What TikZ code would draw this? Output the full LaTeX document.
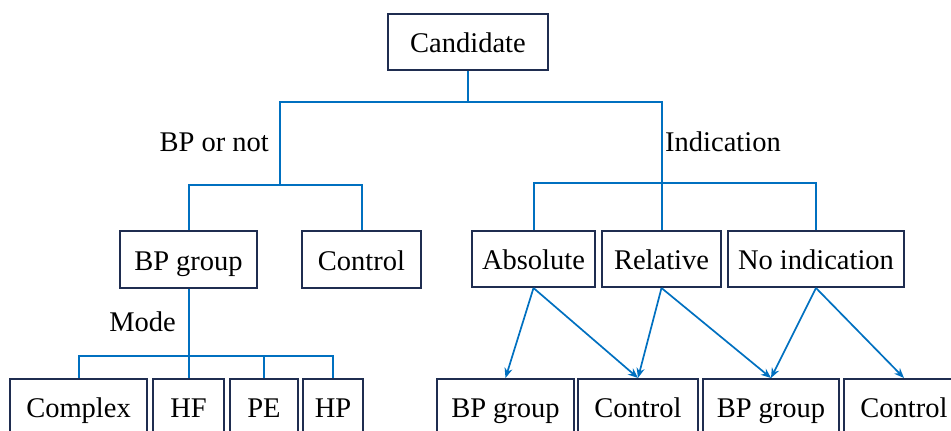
\documentclass[tikz,border=0pt]{standalone}
\usepackage{fontspec}
\setmainfont{Liberation Serif}
\usetikzlibrary{arrows.meta}
\definecolor{lineblue}{HTML}{0070C0}
\definecolor{boxnavy}{HTML}{1F2D50}
\begin{document}
\begin{tikzpicture}[x=1pt,y=-1pt,
  box/.style={draw=boxnavy,line width=2pt,inner sep=0pt,minimum height=56pt,text height=27pt,text depth=6pt,font=\fontsize{28.5}{34}\selectfont},
  lbl/.style={inner sep=0pt,font=\fontsize{28.5}{34}\selectfont},
  tree/.style={draw=lineblue,line width=2pt},
  arr/.style={draw=lineblue,line width=1.7pt,-{Stealth[length=10pt,width=8pt]}}]
\useasboundingbox (0,0) rectangle (951,431);
\clip (0,0) rectangle (951,431);
% nodes
\node[box,minimum width=160pt] (cand) at (468,42) {Candidate};
\node[box,minimum width=137pt,minimum height=57pt] (bpg) at (188.5,259.5) {BP group};
\node[box,minimum width=119pt,minimum height=57pt] (ctl) at (361.5,259.5) {Control};
\node[box,minimum width=123pt] (abs) at (533.5,259) {Absolute};
\node[box,minimum width=119pt] (rel) at (661.5,259) {Relative};
\node[box,minimum width=176pt] (noi) at (816,259) {No indication};
\node[box,minimum width=137pt] (cx) at (78.5,407) {Complex};
\node[box,minimum width=71pt] (hf) at (188.5,407) {HF};
\node[box,minimum width=68pt] (pe) at (264,407) {PE};
\node[box,minimum width=60pt] (hp) at (333,407) {HP};
\node[box,minimum width=137pt] (b1) at (505.5,407) {BP group};
\node[box,minimum width=120pt] (c1) at (638,407) {Control};
\node[box,minimum width=136pt] (b2) at (771,407) {BP group};
\node[box,minimum width=120pt] (c2) at (904,407) {Control};
% labels
\node[lbl,anchor=east] (l1) at (269,142) {BP or not};
\node[lbl,anchor=west] (l2) at (665,142) {Indication};
\node[lbl,anchor=east] (l3) at (176,322) {Mode};
% junctions
\coordinate (t1) at (468,102);
\coordinate (j1) at (280,185);
\coordinate (j2) at (660,183);
\coordinate (m1) at (188.5,356);
% tree lines
\draw[tree] (cand.south) -- (t1);
\draw[tree] (j1) |- (t1) -| (rel.north);
\draw[tree] (bpg.north) |- (j1) -| (ctl.north);
\draw[tree] (abs.north) |- (j2) -| (noi.north);
\draw[tree] (bpg.south) -- (m1);
\draw[tree] (cx.north) |- (m1) -| (hp.north);
\draw[tree] (hf.north) -- (m1);
\draw[tree] (pe.north) -- (pe.north |- m1);
% arrows
\draw[arr] (abs.south) -- (b1.north);
\draw[arr] (abs.south) -- (c1.north);
\draw[arr] (rel.south) -- (c1.north);
\draw[arr] (rel.south) -- (b2.north);
\draw[arr] (noi.south) -- (b2.north);
\draw[arr] (noi.south) -- (c2.north);
\end{tikzpicture}
\end{document}
